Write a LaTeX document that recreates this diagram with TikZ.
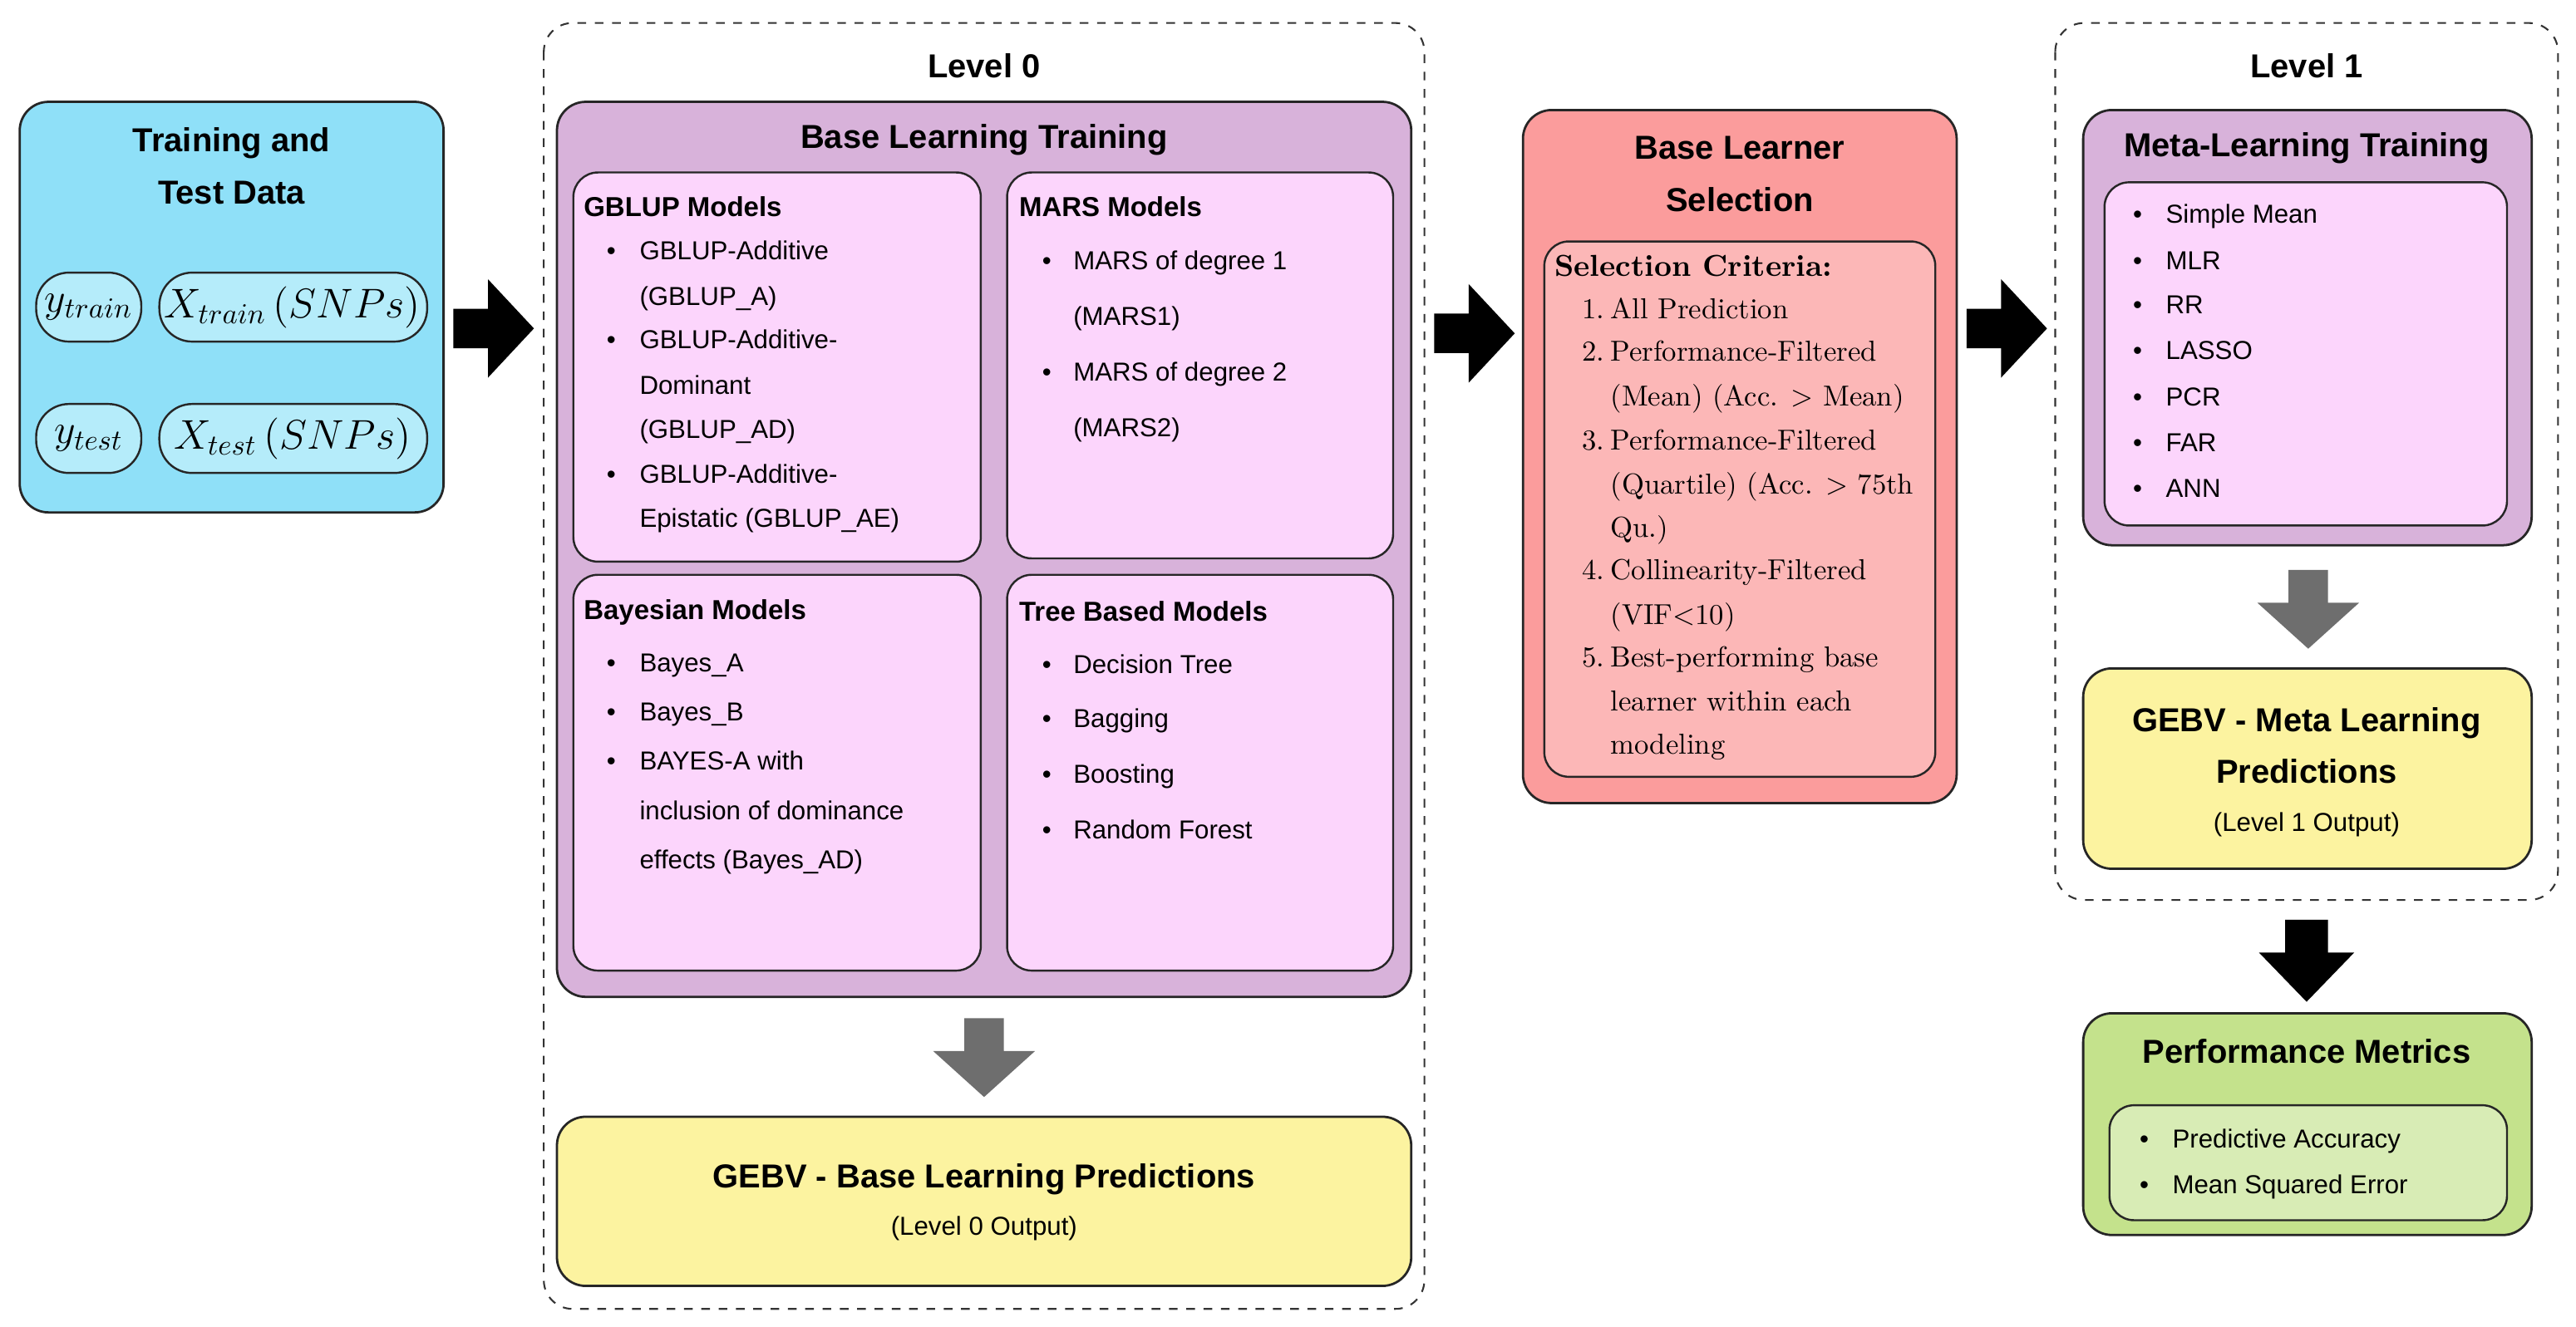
\documentclass[tikz,border=0pt]{standalone}
\usepackage{fontspec}
\newfontfamily\sans{Liberation Sans}
\begin{document}
\begin{tikzpicture}[x=0.02cm,y=-0.02cm,
  bx/.style={draw=black!85,line width=0.8pt,rounded corners=0.35cm},
  ibx/.style={draw=black!85,line width=0.7pt,rounded corners=0.3cm},
  dsh/.style={draw=black!80,dashed,line width=0.6pt,rounded corners=0.35cm},
  ttl/.style={font=\sans\bfseries\fontsize{11.5}{18}\selectfont,align=center,inner sep=0},
  hd/.style={font=\sans\bfseries\fontsize{9.5}{12}\selectfont,anchor=base west,inner sep=0},
  it/.style={font=\sans\fontsize{9}{12}\selectfont,anchor=base west,inner sep=0},
  sr/.style={font=\fontsize{10}{12}\selectfont,anchor=base west,inner sep=0},
  mth/.style={font=\fontsize{14}{16}\selectfont,inner sep=0}]
\definecolor{cblue}{HTML}{8FE0F8}\definecolor{cpill}{HTML}{B5ECFA}
\definecolor{cpur}{HTML}{D8B2DA}\definecolor{cpink}{HTML}{FCD5FC}
\definecolor{cred}{HTML}{FB9C9C}\definecolor{cred2}{HTML}{FCB7B7}
\definecolor{cyel}{HTML}{FCF3A0}\definecolor{cgrn}{HTML}{C4E28C}\definecolor{cgrn2}{HTML}{D8ECB5}
\definecolor{cgray}{HTML}{6E6E6E}
\useasboundingbox (0,0) rectangle (1568,808);
% left data box
\draw[bx,fill=cblue] (12,62) rectangle (270,312);
\node[ttl] (t0) at (141,101) {Training and\\Test Data};
\draw[ibx,fill=cpill,rounded corners=0.4cm] (22,166) rectangle (86,208);
\draw[ibx,fill=cpill,rounded corners=0.4cm] (97,166) rectangle (260,208);
\draw[ibx,fill=cpill,rounded corners=0.4cm] (22,246) rectangle (86,288);
\draw[ibx,fill=cpill,rounded corners=0.4cm] (97,246) rectangle (260,288);
\node[mth] (ytr) at (54,187) {$y_{train}$};
\node[mth] (xtr) at (178,187) {$X_{train}\,(SNPs)$};
\node[mth] (yte) at (54,267) {$y_{test}$};
\node[mth] (xte) at (178,267) {$X_{test}\,(SNPs)$};
% block arrows
\foreach \x/\yc in {276/200,873/203,1197/200}{
  \fill[black] (\x,\yc-12) -- (\x+21,\yc-12) -- (\x+21,\yc-30) -- (\x+49,\yc) -- (\x+21,\yc+30) -- (\x+21,\yc+12) -- (\x,\yc+12) -- cycle;}
% Level 0
\draw[dsh] (331,14) rectangle (867,797);
\node[ttl] (l0) at (599,40) {Level 0};
\draw[bx,fill=cpur] (339,62) rectangle (859,607);
\node[ttl] (blt) at (599,85) {Base Learning Training};
\draw[ibx,fill=cpink] (349,105) rectangle (597,342);
\draw[ibx,fill=cpink] (613,105) rectangle (848,340);
\draw[ibx,fill=cpink] (349,350) rectangle (597,591);
\draw[ibx,fill=cpink] (613,350) rectangle (848,591);
\node[hd] (h1) at (355,132) {GBLUP Models};
\node[hd] (h2) at (620,132) {MARS Models};
\node[hd] (h3) at (355,377) {Bayesian Models};
\node[hd] (h4) at (620,378) {Tree Based Models};
\foreach \t/\y/\b [count=\i] in {GBLUP-Additive/158/1,(GBLUP\_A)/186/0,GBLUP-Additive-/212/1,Dominant/240/0,(GBLUP\_AD)/267/0,GBLUP-Additive-/294/1,Epistatic (GBLUP\_AE)/321/0}{
  \node[it] (ga\i) at (389,\y) {\t};
  \ifnum\b=1 \node[it] (gb\i) at (369,\y) {\textbullet};\fi}
\foreach \t/\y/\b [count=\i] in {MARS of degree 1/164/1,(MARS1)/198/0,MARS of degree 2/232/1,(MARS2)/266/0}{
  \node[it] (ma\i) at (653,\y) {\t};
  \ifnum\b=1 \node[it] (mb\i) at (634,\y) {\textbullet};\fi}
\foreach \t/\y/\b [count=\i] in {Bayes\_A/409/1,Bayes\_B/439/1,BAYES-A with/469/1,inclusion of dominance/499/0,effects (Bayes\_AD)/529/0}{
  \node[it] (ba\i) at (389,\y) {\t};
  \ifnum\b=1 \node[it] (bb\i) at (369,\y) {\textbullet};\fi}
\foreach \t/\y [count=\i] in {Decision Tree/410,Bagging/443,Boosting/477,Random Forest/511}{
  \node[it] (ta\i) at (653,\y) {\t};
  \node[it] (tb\i) at (634,\y) {\textbullet};}
% gray arrow down 1
\fill[cgray] (587,620) -- (611,620) -- (611,640) -- (630,640) -- (599,668) -- (568,640) -- (587,640) -- cycle;
\draw[bx,fill=cyel] (339,680) rectangle (859,783);
\node[ttl] (gb) at (599,718) {GEBV - Base Learning Predictions};
\node[it,anchor=center] (gbs) at (599,748) {(Level 0 Output)};
% selection
\draw[bx,fill=cred] (927,67) rectangle (1191,489);
\node[ttl] (bls) at (1059,106) {Base Learner\\Selection};
\draw[ibx,fill=cred2] (940,147) rectangle (1178,473);
\node[sr,font=\bfseries\fontsize{10.5}{12}\selectfont] (sc) at (946,168) {Selection Criteria:};
\foreach \t/\y/\n [count=\i] in {All Prediction/194/1.,Performance-Filtered/220/2.,(Mean) (Acc. > Mean)/247/,Performance-Filtered/274/3.,(Quartile) (Acc. > 75th/301/,Qu.)/327/,Collinearity-Filtered/353/4.,(VIF<10)/380/,Best-performing base/406/5.,learner within each/433/,modeling/459/}{
  \node[sr] (sa\i) at (980,\y) {\t};
  \node[sr,anchor=base east] (sn\i) at (977,\y) {\n};}
% Level 1
\draw[dsh] (1251,14) rectangle (1557,548);
\node[ttl] (l1) at (1404,40) {Level 1};
\draw[bx,fill=cpur] (1268,67) rectangle (1541,332);
\node[ttl] (mlt) at (1404,90) {Meta-Learning Training};
\draw[ibx,fill=cpink] (1281,111) rectangle (1526,320);
\foreach \t/\y [count=\i] in {Simple Mean/136,MLR/164,RR/191,LASSO/219,PCR/247,FAR/275,ANN/303}{
  \node[it] (mt\i) at (1318,\y) {\t};
  \node[it] (mtb\i) at (1298,\y) {\textbullet};}
\fill[cgray] (1393,347) -- (1417,347) -- (1417,367) -- (1436,367) -- (1405,395) -- (1374,367) -- (1393,367) -- cycle;
\draw[bx,fill=cyel] (1268,407) rectangle (1541,529);
\node[ttl] (gm) at (1404,454) {GEBV - Meta Learning\\Predictions};
\node[it,anchor=center] (gms) at (1404,502) {(Level 1 Output)};
\fill[black] (1391,560) -- (1417,560) -- (1417,580) -- (1433,580) -- (1404,610) -- (1375,580) -- (1391,580) -- cycle;
\draw[bx,fill=cgrn] (1268,617) rectangle (1541,752);
\node[ttl] (pm) at (1404,640) {Performance Metrics};
\draw[ibx,fill=cgrn2] (1284,673) rectangle (1526,743);
\foreach \t/\y [count=\i] in {Predictive Accuracy/699,Mean Squared Error/727}{
  \node[it] (pa\i) at (1322,\y) {\t};
  \node[it] (pb\i) at (1302,\y) {\textbullet};}
\end{tikzpicture}
\end{document}
